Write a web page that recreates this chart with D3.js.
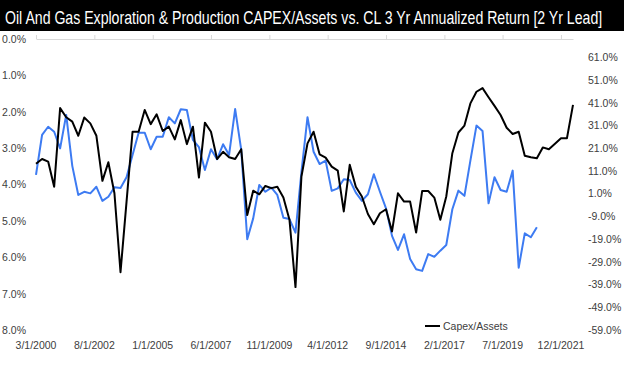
<!DOCTYPE html>
<html><head><meta charset="utf-8">
<script src="https://cdn.jsdelivr.net/npm/d3@7"></script>
<style>
html,body{margin:0;padding:0;background:#fff;}
svg{display:block;}
text{font-family:"Liberation Sans",Arial,sans-serif;}
</style></head>
<body><svg id="c" width="624" height="365"></svg>
<script>
const titleText = "Oil And Gas Exploration & Production CAPEX/Assets vs. CL 3 Yr Annualized Return [2 Yr Lead]";
const startDate = "3/1/2000";
const endDate = "6/1/2022";
const xTickLabels = ["3/1/2000","8/1/2002","1/1/2005","6/1/2007","11/1/2009","4/1/2012","9/1/2014","2/1/2017","7/1/2019","12/1/2021"];
const leftTicks = [0,1,2,3,4,5,6,7,8];
const rightTicks = [-59,-49,-39,-29,-19,-9,1,11,21,31,41,51,61];
const legendLabel = "Capex/Assets";
// Capex/Assets (%), quarterly from 3/1/2000 — left axis (inverted)
const capexAssets = [3.43,3.30,3.37,4.06,1.90,2.15,2.27,2.66,2.16,2.32,
  2.66,3.90,3.39,4.24,6.41,4.48,2.55,2.55,1.95,2.34,
  2.07,2.53,2.41,2.76,2.23,2.89,2.41,3.81,2.30,2.55,
  3.30,3.10,3.25,3.30,3.03,4.84,4.17,4.27,4.04,4.10,
  4.06,4.36,4.97,6.82,3.78,2.87,2.55,3.17,3.26,3.51,
  3.62,4.74,3.46,4.06,4.33,4.81,5.09,4.79,4.68,5.29,
  4.24,4.47,4.47,5.32,4.18,4.18,4.36,4.97,4.33,3.14,
  2.57,2.38,1.77,1.45,1.35,1.60,1.84,2.09,2.44,2.61,
  2.55,3.21,3.25,3.28,2.98,3.03,2.88,2.73,2.73,1.81];
// CL 3 Yr annualized return (%), 2 yr lead — right axis
const clReturn = [9.2,26.8,30.4,28.2,20.9,35.6,13.2,0.4,1.8,1.1,
  4.0,-2.2,-0.4,3.8,3.5,8.2,18.0,27.8,27.8,20.5,
  26.0,26.0,34.6,31.9,38.1,37.8,24.6,21.4,11.4,20.5,
  16.1,22.7,18.0,38.2,20.2,-19.1,-9.9,4.8,1.8,3.6,
  0.4,-9.6,-10.2,-16.2,10.5,34.6,19.4,14.0,15.5,2.2,
  3.3,7.3,7.0,1.4,-2.2,0.7,9.5,1.8,-5.5,-17.6,
  -23.8,-16.9,-27.8,-32.3,-33.0,-25.6,-26.8,-24.1,-21.6,-5.9,
  2.3,0.0,15.5,30.9,28.5,-3.3,8.2,2.6,1.8,11.1,
  -31.6,-16.5,-18.2,-13.8];

const parse = d3.timeParse("%m/%d/%Y");
const fmtTick = d => (d.getMonth()+1) + "/" + d.getDate() + "/" + d.getFullYear();
const t0 = parse(startDate), t1 = parse(endDate);
const dates = d3.timeMonth.range(t0, d3.timeDay.offset(t1,1), 3);

const svg = d3.select("#c");
const x = d3.scaleTime().domain([t0, t1]).range([36, 573]);
const yL = d3.scaleLinear().domain([0, 8]).range([39, 330]);
const yR = d3.scaleLinear().domain([-59, 69]).range([330, 39]);

// title bar
svg.append("rect").attr("x",0).attr("y",0).attr("width",624).attr("height",31).attr("fill","#000");
const title = svg.append("text").attr("x",0).attr("y",0)
  .attr("fill","#fff").attr("font-size",18)
  .style("font-family","'Liberation Sans',Arial,sans-serif")
  .text(titleText);
const natural = title.node().getComputedTextLength();
title.attr("transform", `translate(5,24) scale(${598/natural},1)`);

// top category axis (crosses at 0% of reversed left axis)
const xAxis = d3.axisTop(x).tickValues(xTickLabels.map(parse)).tickSize(4).tickSizeOuter(0).tickFormat("");
const gx = svg.append("g").attr("transform","translate(0,39)").call(xAxis);
gx.selectAll("path,line").attr("stroke","#d9d9d9");

// bottom tick labels
svg.append("g").selectAll("text").data(xTickLabels.map(parse)).join("text")
  .attr("x", d => x(d)).attr("y", 349).attr("text-anchor","middle")
  .attr("font-size",10.5).attr("fill","#404040").text(fmtTick);

// left axis
const gl = svg.append("g").attr("transform","translate(26,0)")
  .call(d3.axisLeft(yL).tickValues(leftTicks).tickSize(0).tickPadding(0).tickFormat(d => d.toFixed(1)+"%"));
gl.select(".domain").remove();
gl.selectAll("text").attr("font-size",10.5).attr("fill","#404040").style("font-family","'Liberation Sans',Arial,sans-serif");

// right axis
const gr = svg.append("g").attr("transform","translate(588,0)")
  .call(d3.axisRight(yR).tickValues(rightTicks).tickSize(0).tickPadding(0).tickFormat(d => d.toFixed(1)+"%"));
gr.select(".domain").remove();
gr.selectAll("text").attr("font-size",10.5).attr("fill","#404040").style("font-family","'Liberation Sans',Arial,sans-serif");

// lines
const lineL = d3.line().x((d,i) => x(dates[i])).y(d => yL(d));
const lineR = d3.line().x((d,i) => x(dates[i])).y(d => yR(d));
svg.append("path").datum(clReturn).attr("d", lineR).attr("fill","none")
  .attr("stroke","#3d7bf2").attr("stroke-width",2).attr("stroke-linejoin","round");
svg.append("path").datum(capexAssets).attr("d", lineL).attr("fill","none")
  .attr("stroke","#000").attr("stroke-width",2).attr("stroke-linejoin","round");

// legend
svg.append("line").attr("x1",425).attr("x2",440).attr("y1",326).attr("y2",326)
  .attr("stroke","#000").attr("stroke-width",2);
svg.append("text").attr("x",443).attr("y",330).attr("font-size",10.5).attr("fill","#404040").text(legendLabel);
</script></body></html>
